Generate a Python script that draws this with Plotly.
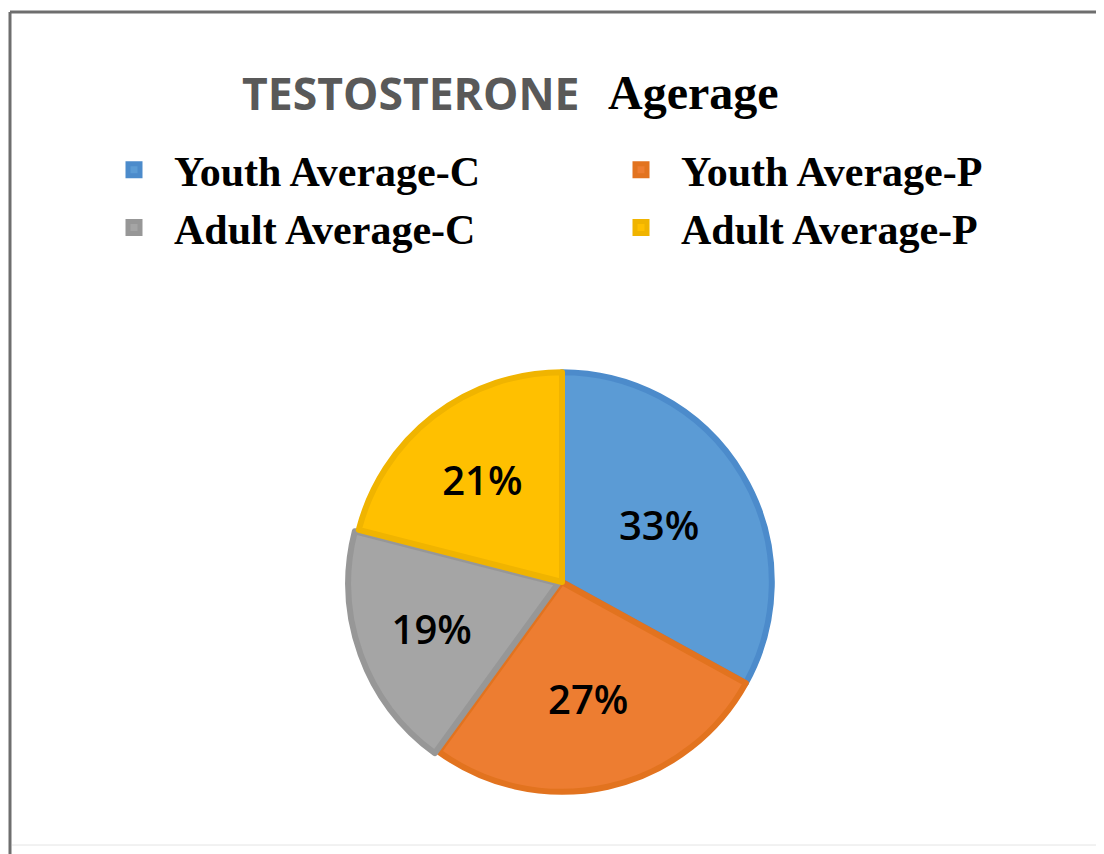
import plotly.graph_objects as go

# 数据
labels = ["Youth Average-C", "Youth Average-P", "Adult Average-C", "Adult Average-P"]
values = [33, 27, 19, 21]
slice_colors = ["#5B9BD5", "#ED7D31", "#A5A5A5", "#FFC000"]
edge_colors = ["#4C8BCB", "#E2731F", "#979797", "#F0B400"]
pulls = [0, 0, 0.02, 0]

# 页面有 8px 的 body 边距，图本身缩小 8px
W, H = 1096, 846


def px(x):
    return x / W


def py(y):
    return 1 - y / H


fig = go.Figure()

fig.add_trace(
    go.Pie(
        labels=labels,
        values=values,
        sort=False,
        direction="clockwise",
        rotation=0,
        pull=pulls,
        marker=dict(colors=slice_colors, line=dict(color=edge_colors, width=6)),
        textinfo="percent",
        textposition="inside",
        insidetextorientation="horizontal",
        insidetextfont=dict(family="Open Sans, sans-serif", size=40, color="#000000", weight=600),
        domain=dict(x=[px(554 - 214), px(554 + 214)], y=[(272 - 214) / H, (272 + 214) / H]),
        hoverinfo="label+percent",
    )
)

# 标题
fig.add_annotation(
    text="TESTOSTERONE", x=px(232), y=py(84), xref="paper", yref="paper",
    xanchor="left", yanchor="middle", showarrow=False,
    font=dict(family="Open Sans, sans-serif", size=44.5, color="#595959", weight="bold"),
)
fig.add_annotation(
    text="<b>Agerage</b>", x=px(598), y=py(85), xref="paper", yref="paper",
    xanchor="left", yanchor="middle", showarrow=False,
    font=dict(family="Liberation Serif, serif", size=48, color="#000000"),
)

# 外框
fig.add_shape(type="line", xref="paper", yref="paper", x0=px(2), x1=1, y0=py(4), y1=py(4),
              line=dict(color="#6E6E6E", width=3))
fig.add_shape(type="line", xref="paper", yref="paper", x0=px(2), x1=px(2), y0=0, y1=py(4),
              line=dict(color="#6E6E6E", width=3))
fig.add_shape(type="line", xref="paper", yref="paper", x0=px(1091), x1=px(1091), y0=py(837), y1=py(6),
              line=dict(color="#E4E4E4", width=1))
fig.add_shape(type="line", xref="paper", yref="paper", x0=px(4), x1=px(1091), y0=py(837), y1=py(837),
              line=dict(color="#E4E4E4", width=1))

fig.update_layout(
    width=W,
    height=H,
    margin=dict(l=0, r=0, t=0, b=0, autoexpand=False),
    paper_bgcolor="white",
    plot_bgcolor="white",
    showlegend=True,
    legend=dict(
        orientation="h",
        x=px(86),
        xanchor="left",
        y=py(128),
        yanchor="top",
        itemwidth=70,
        entrywidth=422,
        entrywidthmode="pixels",
        font=dict(family="Liberation Serif, serif", size=42, color="#000000", weight="bold"),
        bgcolor="rgba(0,0,0,0)",
    ),
)

fig.write_html("out.html")
